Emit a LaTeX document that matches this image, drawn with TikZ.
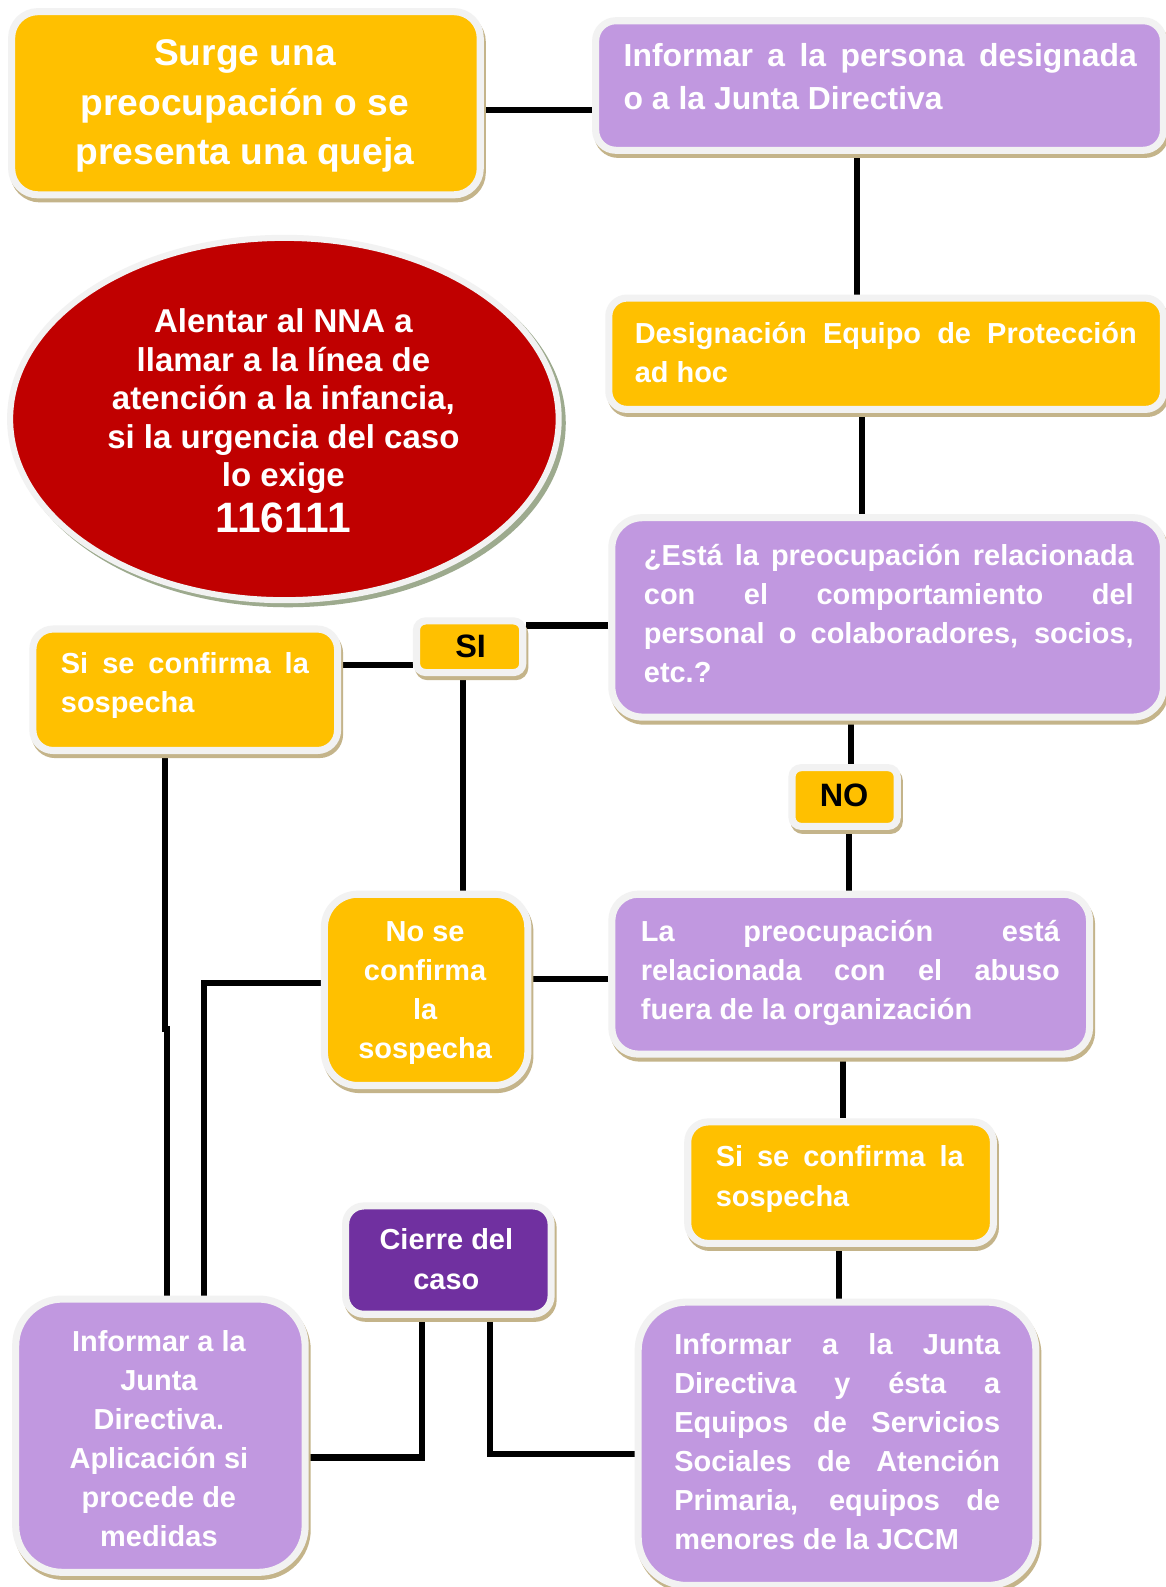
\documentclass[tikz,border=0pt]{standalone}
\usepackage{fontspec}
\setmainfont{Liberation Sans}
\usetikzlibrary{calc,shapes.geometric}
\pgfdeclarelayer{back}
\pgfdeclarelayer{bg}
\pgfsetlayers{back,bg,main}
\definecolor{cOr}{HTML}{FFC000}
\definecolor{cLav}{HTML}{C198E0}
\definecolor{cRed}{HTML}{C00000}
\definecolor{cPur}{HTML}{7030A0}
\definecolor{cGry}{HTML}{F2F2F2}
\definecolor{cTan}{HTML}{C4B48A}
\definecolor{cGrn}{HTML}{9DAA8E}
\newcommand\ns{\spaceskip=0pt\xspaceskip=0pt\relax}
\newcommand\nsc{\spaceskip=\fontdimen2\font\xspaceskip=\fontdimen2\font\relax}
\newcommand\jl[1]{\leavevmode\hbox to \hsize{\ns #1}}
\begin{document}
\begin{tikzpicture}[x=1pt,y=-1pt,
  bx/.style={rectangle, rounded corners=#1, draw=cGry, line width=7pt, inner sep=0pt,
    preaction={draw=cTan, fill=cTan, line width=7pt, transform canvas={shift={(2pt,-4pt)}}}},
  bx/.default=18pt,
  txt/.style={inner sep=0pt, text=white, font=\bfseries\fontsize{28.6}{38.6}\selectfont},
  lab/.style={inner sep=0pt, text=black, font=\bfseries\fontsize{32}{38}\selectfont, anchor=base},
  conn/.style={line width=6pt, draw=black},
]
\useasboundingbox (0,0) rectangle (1152,1568);
\begin{pgfonlayer}{back}
\fill[white] (0,0) rectangle (1152,1568);
\end{pgfonlayer}

% boxes
\node[bx=26pt, fill=cOr, minimum width=463pt, minimum height=181pt] (b1) at (243,102) {};
\node[bx=20pt, fill=cLav, minimum width=561pt, minimum height=128pt] (b2) at (869,84.5) {};
\node[bx=18pt, fill=cOr, minimum width=548pt, minimum height=110pt] (b3) at (875.5,349.5) {};
\node[bx=30pt, fill=cLav, minimum width=545pt, minimum height=197pt] (b4) at (877,610) {};
\node[ellipse, draw=cGry, line width=6pt, fill=cRed, inner sep=0pt,
  minimum width=542pt, minimum height=358pt,
  preaction={draw=cGrn, fill=cGrn, line width=6pt, transform canvas={shift={(4pt,-4pt)}}}] (el) at (281,414) {};
\node[bx=9pt, fill=cOr, minimum width=105pt, minimum height=51pt] (si) at (464,639) {};
\node[bx=20pt, fill=cOr, minimum width=301pt, minimum height=120pt] (b7) at (183,681.5) {};
\node[bx=9pt, fill=cOr, minimum width=104pt, minimum height=58pt] (no) at (834.5,787.5) {};
\node[bx=33pt, fill=cOr, minimum width=201pt, minimum height=189pt] (b9) at (421,978) {};
\node[bx=26pt, fill=cLav, minimum width=472pt, minimum height=158pt] (b10) at (840.5,962.5) {};
\node[bx=20pt, fill=cOr, minimum width=302pt, minimum height=120pt] (b11) at (830.5,1168.5) {};
\node[bx=18pt, fill=cPur, minimum width=203pt, minimum height=107pt] (b12) at (443,1245) {};
\node[bx=46pt, fill=cLav, minimum width=286pt, minimum height=270pt] (b13) at (158.5,1418.5) {};
\node[bx=48pt, fill=cLav, minimum width=393pt, minimum height=280pt] (b14) at (827,1426.5) {};

% texts
\node[txt, anchor=base, text width=440pt, align=center, font=\bfseries\fontsize{36.7}{49}\selectfont] (t1) at (242,65)
  {\nsc Surge una\\preocupación o se\\presenta una queja};
\node[txt, anchor=base west, text width=507pt, align=left, font=\bfseries\fontsize{31.5}{42}\selectfont] (t2) at (616,66)
  {\nsc\jl{Informar a la persona designada}\\o a la Junta Directiva};
\node[txt, anchor=base west, text width=496pt, align=left] (t3) at (627,339)
  {\nsc\jl{Designación Equipo de Protección}\\ad hoc};
\node[txt, anchor=base west, text width=484pt, align=left] (t4) at (636,559)
  {\nsc\jl{¿Está la preocupación relacionada}\\\jl{con el comportamiento del}\\\jl{personal o colaboradores, socios,}\\etc.?};
\node[txt, anchor=base, text width=500pt, align=center, font=\bfseries\fontsize{32.6}{38}\selectfont] (tel) at (280,329)
  {\nsc Alentar al NNA a\\llamar a la línea de\\atención a la infancia,\\si la urgencia del caso\\lo exige\\[7pt]{\fontsize{42}{45}\selectfont 116111}};
\node[lab] (tsi) at (465,650) {SI};
\node[lab] (tno) at (834,797) {NO};
\node[txt, anchor=base west, text width=245pt, align=left] (t7) at (60,665)
  {\nsc\jl{Si se confirma la}\\sospecha};
\node[txt, anchor=base, text width=190pt, align=center] (t9) at (420,930)
  {\nsc No se\\confirma\\la\\sospecha};
\node[txt, anchor=base west, text width=414pt, align=left] (t10) at (633,930)
  {\nsc\jl{La preocupación está}\\\jl{relacionada con el abuso}\\fuera de la organización};
\node[txt, anchor=base west, text width=245pt, align=left] (t11) at (707,1153)
  {\nsc\jl{Si se confirma la}\\sospecha};
\node[txt, anchor=base, text width=190pt, align=center] (t12) at (441,1235)
  {\nsc Cierre del\\caso};
\node[txt, anchor=base, text width=270pt, align=center] (t13) at (157,1335)
  {\nsc Informar a la\\Junta\\Directiva.\\Aplicación si\\procede de\\medidas};
\node[txt, anchor=base west, text width=322pt, align=left] (t14) at (666,1338)
  {\nsc\jl{Informar a la Junta}\\\jl{Directiva y ésta a}\\\jl{Equipos de Servicios}\\\jl{Sociales de Atención}\\\jl{Primaria, equipos de}\\menores de la JCCM};

% connectors
\begin{pgfonlayer}{bg}
\draw[conn] ([yshift=-7pt]b1.east) -- ([yshift=-7pt]b1.east -| b2.west);
\draw[conn] ([xshift=-22pt]b2.south) -- ([xshift=-22pt]b2.south |- b3.north);
\draw[conn] ([xshift=-23.5pt]b3.south) -- ([xshift=-23.5pt]b3.south |- b4.north);
\draw[conn] ([yshift=-8pt]b4.west) -- ([yshift=-8pt]b4.west -| si.east);
\draw[conn] ([yshift=-18pt]si.west) -- ([yshift=-18pt]si.west -| b7.east);
\draw[conn] ([xshift=-7pt]si.south) -- ([xshift=-7pt]si.south |- b9.north);
\draw[conn] ([xshift=-20pt]b7.south) -- ++(0,272) -| ([xshift=6.5pt]b13.north);
\draw[conn] ([xshift=-36pt]b4.south) -- ([xshift=-36pt]b4.south |- no.north);
\draw[conn] ([xshift=4.5pt]no.south) -- ([xshift=4.5pt]no.south |- b10.north);
\draw[conn] ([yshift=7pt]b9.west) -| ([xshift=43.5pt]b13.north);
\draw[conn] ([yshift=-4.5pt]b10.west) -- ([yshift=-4.5pt]b10.west -| b9.east);
\draw[conn] ([xshift=-7.5pt]b10.south) -- ([xshift=-7.5pt]b10.south |- b11.north);
\draw[conn] ([xshift=-1.5pt]b11.south) -- ([xshift=-1.5pt]b11.south |- b14.north);
\draw[conn] ([xshift=-26pt]b12.south) |- ([yshift=-21.5pt]b13.east);
\draw[conn] ([xshift=41pt]b12.south) |- ([yshift=-10.5pt]b14.west);
\end{pgfonlayer}
\end{tikzpicture}
\end{document}
